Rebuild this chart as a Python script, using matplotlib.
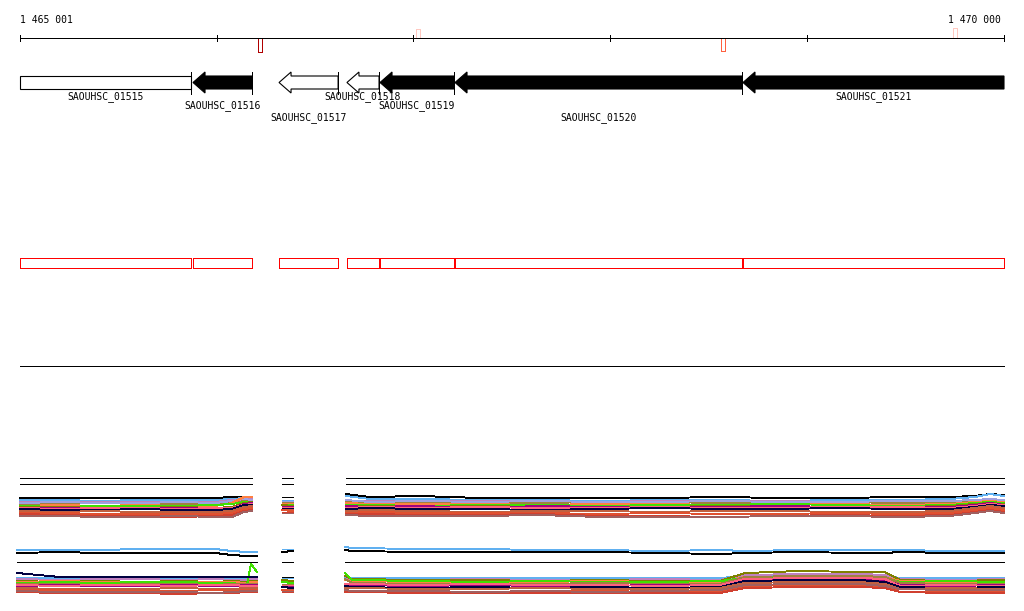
"""Genome browser view around SAOUHSC_01515..01521 (matplotlib).
x is genome position (bp), y is screen row (px, top down).
"""
import numpy as np
import matplotlib
matplotlib.use('Agg')
import matplotlib.pyplot as plt
from matplotlib.patches import Polygon, Rectangle

W, H = 1024, 611
X0, X1 = 1465001, 1470000
PX = 4999 / 984          # bp per screen pixel
LW = 0.7                 # ~1 screen pixel

# ---- genes ----
gene_names = ['SAOUHSC_01515', 'SAOUHSC_01516', 'SAOUHSC_01517', 'SAOUHSC_01518',
              'SAOUHSC_01519', 'SAOUHSC_01520', 'SAOUHSC_01521']
gene_start = [1465001, 1465880, 1466317, 1466662, 1466830, 1467211, 1468674]
gene_end = [1465870, 1466180, 1466617, 1466825, 1467206, 1468669, 1470000]
gene_strand = ['+', '-', '-', '-', '-', '-', '-']
gene_fill = ['white', 'black', 'white', 'white', 'black', 'black', 'black']
gene_row = [0, 1, 2, 0, 1, 2, 0]

# ---- variant marks on the ruler ----
mark_pos = [1466220, 1468573, 1467023, 1469751]
mark_top = [38, 38, 29, 28]
mark_bot = [52, 51, 38, 38]
mark_col = ['#b00000', '#ff6040', '#ffc8c0', '#ffc8c0']

ticks = [1465001, 1466000, 1467000, 1468000, 1469000, 1470000]

# ---- coverage-like profiles, panel 1 ----
grid1 = [1465001, 1465204, 1465407, 1465611, 1465814, 1465992, 1466078, 1466139, 1466180,
         1466332, 1466388,
         1466657, 1466779, 1467033, 1467338, 1467643, 1467947, 1468252, 1468557, 1468862,
         1469167, 1469472, 1469725, 1469852, 1469928, 1470000]
segs1 = [(0, 9), (9, 11), (11, 26)]
flat1 = [478, 484]
p1_colors = ['black', '#60b0f0', '#c080c0', '#a08040', '#a0a0e0', '#ff8040', '#40e000',
             '#808000', '#a00080', '#ff6080', '#000040', '#c06040', '#e05030', '#d04030',
             '#a06060']
p1_lines = [
    [498, 498, 498, 498, 498, 498, 497, 497, 497, 497, 497, 494, 497, 496, 498, 498, 498, 498, 497, 498, 498, 497, 497, 496, 494, 495],
    [500, 500, 501, 500, 500, 500, 499, 498, 498, 500, 500, 496, 499, 499, 500, 500, 501, 500, 500, 501, 500, 500, 499, 497, 494, 496],
    [502, 503, 502, 502, 503, 502, 500, 499, 499, 501, 501, 501, 501, 502, 501, 502, 502, 501, 502, 501, 502, 502, 501, 500, 499, 500],
    [504, 504, 503, 504, 504, 504, 502, 500, 500, 502, 502, 502, 503, 502, 503, 503, 502, 502, 503, 503, 502, 503, 502, 501, 500, 501],
    [503, 502, 503, 503, 502, 503, 501, 499, 500, 501, 501, 500, 502, 501, 502, 501, 502, 502, 501, 502, 502, 501, 501, 500, 499, 500],
    [506, 505, 506, 505, 506, 506, 503, 497, 497, 503, 503, 503, 504, 504, 504, 505, 504, 504, 505, 504, 504, 505, 504, 502, 501, 502],
    [506, 507, 506, 506, 506, 505, 504, 502, 502, 504, 504, 505, 505, 506, 505, 505, 506, 505, 505, 504, 505, 506, 505, 503, 502, 503],
    [507, 507, 508, 508, 507, 508, 507, 503, 502, 505, 506, 507, 506, 507, 506, 507, 507, 507, 506, 507, 507, 507, 506, 504, 503, 504],
    [509, 508, 509, 509, 508, 509, 508, 504, 503, 506, 506, 506, 507, 506, 508, 506, 507, 508, 507, 506, 507, 508, 507, 505, 503, 505],
    [508, 509, 508, 508, 509, 508, 508, 505, 504, 507, 507, 508, 507, 508, 507, 508, 508, 507, 508, 508, 507, 507, 508, 506, 504, 505],
    [509, 510, 510, 509, 510, 510, 509, 505, 505, 508, 508, 509, 508, 509, 509, 510, 509, 508, 509, 509, 508, 509, 509, 507, 505, 506],
    [511, 512, 511, 512, 512, 512, 511, 507, 506, 509, 509, 511, 510, 511, 512, 511, 511, 512, 511, 511, 512, 512, 511, 508, 506, 508],
    [513, 513, 514, 514, 514, 514, 513, 509, 508, 510, 511, 513, 512, 513, 513, 513, 514, 513, 514, 514, 513, 514, 513, 510, 508, 510],
    [514, 515, 516, 516, 517, 516, 515, 511, 510, 512, 512, 514, 514, 515, 515, 514, 516, 516, 517, 516, 515, 516, 515, 512, 510, 512],
    [516, 516, 517, 517, 516, 517, 517, 512, 511, 513, 513, 515, 516, 516, 516, 515, 517, 517, 517, 516, 516, 517, 516, 513, 511, 513],
]

# ---- panel 2 ----
grid2 = [1464986, 1465204, 1465407, 1465611, 1465814, 1465992, 1466078, 1466154, 1466174, 1466205,
         1466332, 1466388,
         1466652, 1466688, 1467033, 1467338, 1467643, 1467947, 1468252, 1468557, 1468684,
         1468963, 1469268, 1469395, 1469472, 1469725, 1470000]
segs2 = [(0, 10), (10, 12), (12, 27)]
flat2 = [562, 577]
p2_colors = ['#60b0f0', 'black',
             '#60b0f0', '#c080c0', '#808000', '#ff8040', '#40e000', '#a08040', '#a00080',
             '#ff6080', '#000040', '#c06040', '#e05030', '#d04030', '#a06060']
p2_lines = [
    [550, 550, 550, 549, 549, 549, 551, 552, 552, 552, 549, 549, 547, 548, 549, 549, 550, 550, 551, 550, 551, 550, 550, 550, 550, 551, 551],
    [553, 552, 553, 553, 553, 553, 555, 556, 556, 556, 552, 551, 550, 551, 552, 552, 552, 552, 553, 554, 553, 552, 553, 553, 552, 553, 553],
    [578, 578, 578, 578, 579, 578, 578, 578, 578, 578, 578, 578, 578, 578, 578, 578, 578, 578, 578, 578, 576, 575, 575, 576, 578, 578, 578],
    [579, 580, 579, 579, 580, 579, 580, 580, 579, 579, 580, 580, 579, 579, 580, 579, 580, 580, 579, 580, 575, 574, 574, 575, 579, 580, 579],
    [581, 582, 581, 582, 581, 582, 581, 582, 581, 581, 580, 581, 576, 579, 580, 580, 581, 580, 581, 581, 573, 571, 572, 572, 580, 581, 580],
    [582, 581, 582, 582, 583, 582, 582, 583, 582, 582, 582, 582, 580, 581, 582, 582, 582, 581, 582, 582, 577, 576, 576, 577, 581, 582, 582],
    [583, 582, 583, 582, 582, 583, 583, 585, 564, 572, 582, 583, 573, 580, 581, 582, 581, 582, 582, 581, 578, 577, 577, 578, 582, 581, 582],
    [584, 584, 585, 584, 584, 585, 584, 584, 584, 584, 584, 584, 579, 583, 584, 584, 584, 583, 584, 584, 577, 576, 576, 577, 583, 584, 584],
    [586, 585, 586, 586, 585, 586, 586, 585, 585, 585, 586, 586, 585, 585, 586, 585, 586, 586, 585, 586, 580, 579, 579, 580, 585, 586, 585],
    [585, 586, 585, 585, 586, 585, 585, 586, 586, 586, 585, 585, 584, 584, 585, 584, 585, 585, 586, 585, 579, 578, 578, 579, 586, 585, 586],
    [573, 577, 577, 577, 577, 577, 577, 577, 577, 577, 587, 588, 586, 587, 588, 587, 588, 587, 588, 587, 581, 580, 580, 582, 587, 588, 587],
    [588, 589, 589, 589, 588, 589, 589, 588, 588, 588, 589, 589, 588, 588, 589, 589, 588, 589, 589, 588, 583, 582, 582, 584, 589, 588, 589],
    [590, 590, 591, 591, 591, 590, 591, 590, 590, 590, 590, 591, 591, 591, 592, 592, 591, 591, 592, 592, 586, 585, 585, 586, 592, 591, 592],
    [592, 593, 593, 593, 594, 593, 593, 592, 592, 592, 592, 592, 592, 592, 593, 593, 593, 593, 593, 593, 588, 587, 587, 588, 592, 593, 593],
    [591, 592, 592, 592, 592, 593, 592, 591, 591, 591, 591, 591, 590, 591, 591, 592, 591, 592, 591, 590, 585, 584, 584, 586, 589, 590, 590],
]

MONO = 'DejaVu Sans Mono'

fig = plt.figure(figsize=(W / 100, H / 100), dpi=100)
ax = fig.add_axes([0, 0, 1, 1])
ax.set_xlim(X0 - 20 * PX, X1 + 20 * PX)
ax.set_ylim(H, 0)
ax.axis('off')

# ruler
ax.plot([X0, X1], [38, 38], color='black', lw=LW, antialiased=False)
for t in ticks:
    ax.plot([t, t], [35, 41], color='black', lw=LW, antialiased=False)
ax.text(X0, 20, '1 465 001', family=MONO, fontsize=7, ha='left', va='center')
ax.text(X1 - 3 * PX, 20, '1 470 000', family=MONO, fontsize=7, ha='right', va='center')
for p, y0, y1, c in zip(mark_pos, mark_top, mark_bot, mark_col):
    ax.add_patch(Rectangle((p - 2 * PX, y0), 4 * PX, y1 - y0, fill=False, ec=c,
                           lw=LW, antialiased=False))

# genes
yc, sh, hh, head = 82.5, 6.5, 10.5, 12 * PX
label_y = [97, 106, 118]
for name, s, e, st, fc, row in zip(gene_names, gene_start, gene_end, gene_strand,
                                   gene_fill, gene_row):
    if st == '-':
        pts = [(s, yc), (s + head, yc - hh), (s + head, yc - sh), (e, yc - sh),
               (e, yc + sh), (s + head, yc + sh), (s + head, yc + hh)]
    else:
        pts = [(s, yc - sh), (e, yc - sh), (e, yc + sh), (s, yc + sh)]
    ax.add_patch(Polygon(pts, closed=True, fc=fc, ec='black', lw=0.8))
    if e < X1:
        ax.plot([e, e], [72, 94], color='black', lw=LW, antialiased=False)
    ax.text((s + e) / 2, label_y[row], name, family=MONO, fontsize=7,
            ha='center', va='center')

# feature boxes
for s, e in zip(gene_start, gene_end):
    ax.add_patch(Rectangle((s, 258), e - s, 10, fill=False, ec='red', lw=LW,
                           antialiased=False))

ax.plot([X0, X1], [366, 366], color='black', lw=LW, antialiased=False)


def draw_panel(grid, segs, flats, lines, colors):
    g = np.array(grid)
    for a, b in segs:
        for fy in flats:
            ax.plot([g[a], g[b - 1]], [fy, fy], color='black', lw=LW,
                    antialiased=False)
        for vals, c in zip(lines, colors):
            ax.plot(g[a:b], np.array(vals)[a:b], color=c, lw=LW,
                    antialiased=False)


draw_panel(grid1, segs1, flat1, p1_lines, p1_colors)
draw_panel(grid2, segs2, flat2, p2_lines, p2_colors)

fig.savefig('out.png', dpi=100)
